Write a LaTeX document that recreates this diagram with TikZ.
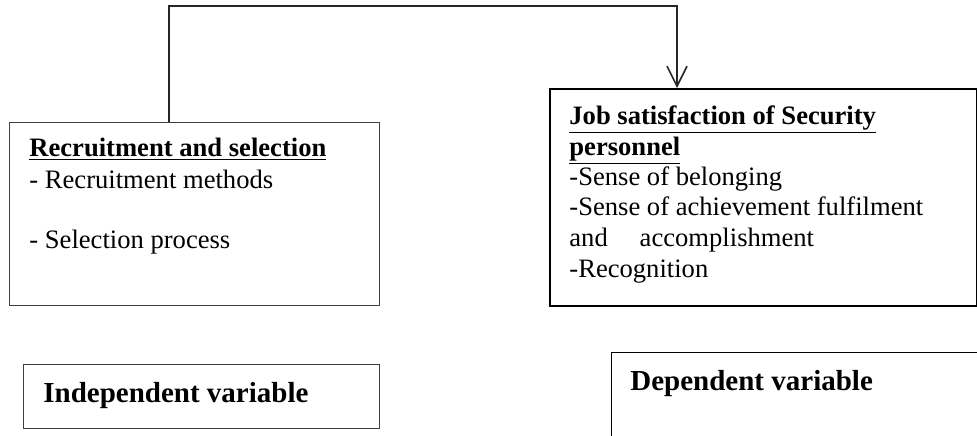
\documentclass[tikz,border=0pt]{standalone}
\usepackage{fontspec}
\setmainfont{Liberation Serif}
\usetikzlibrary{arrows.meta}
\begin{document}
\begin{tikzpicture}[x=0.5pt,y=-0.5pt,
  boxthin/.style={draw=black!75, line width=0.65pt, anchor=north west, inner sep=0pt},
  boxthick/.style={draw=black, line width=1pt, anchor=north west, inner sep=0pt},
  txt/.style={anchor=base west, inner sep=0pt, font=\fontsize{13.3}{15}\selectfont},
  hdr/.style={anchor=base west, inner sep=0pt, font=\fontsize{13.3}{15}\selectfont\bfseries},
  lbl/.style={anchor=base west, inner sep=0pt, font=\fontsize{14.5}{17}\selectfont\bfseries},
  conn/.style={draw=black!85, line width=0.7pt}
]
\useasboundingbox (0,0) rectangle (977,435);
% boxes
\node[boxthin, minimum width=185pt, minimum height=91.5pt] (L) at (9,122) {};
\node[boxthick, minimum width=213.5pt, minimum height=108.5pt] (R) at (549,88) {};
\node[boxthin, line width=0.6pt, minimum width=178pt, minimum height=32pt] (I) at (23,364) {};
\node[boxthin, draw=black, line width=0.6pt, minimum width=200pt, minimum height=50pt] (D) at (611,352) {};
% left box text
\node[hdr] (L1) at (29,156) {\underline{Recruitment and selection}};
\node[txt] (L2) at (29,188) {- Recruitment methods};
\node[txt] (L3) at (29,248) {- Selection process};
% right box text
\node[hdr] (R1) at (569,124) {\underline{Job satisfaction of Security}};
\node[hdr] (R2) at (569,155) {\underline{personnel}};
\node[txt] (R3) at (569,185) {-Sense of belonging};
\node[txt] (R4) at (569,215) {-Sense of achievement fulfilment};
\node[txt] (R5) at (569,246) {and\hspace{1.2em}accomplishment};
\node[txt] (R6) at (569,277) {-Recognition};
% variable labels
\node[lbl] (I1) at (43,402) {Independent variable};
\node[lbl] (D1) at (630,390) {Dependent variable};
% connector
\coordinate (c1) at (169,6);
\coordinate (c2) at (677,6);
\draw[conn, -{Straight Barb[length=10pt,width=10pt,line width=0.8pt]}]
  (L.north west -| c1) -- (c1) -- (c2) -- (R.north west -| c2);
\end{tikzpicture}
\end{document}
